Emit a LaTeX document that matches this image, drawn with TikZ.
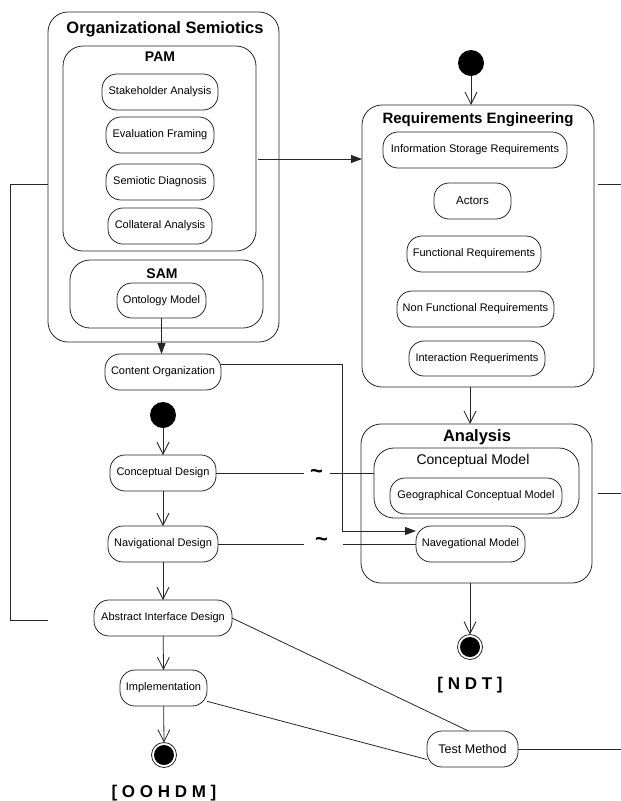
\documentclass[tikz,border=0pt]{standalone}
\usepackage{fontspec}
\setmainfont{Liberation Sans}
\usetikzlibrary{arrows.meta}
\begin{document}
\begin{tikzpicture}[x=1pt,y=-1pt,
  line width=0.8pt, draw=black!85,
  every node/.style={inner sep=0pt, outer sep=0pt},
  pill/.style={draw, rounded corners=15pt, font=\fontsize{11}{12}\selectfont, minimum height=36pt, align=center},
  cont/.style={draw, rounded corners=20pt},
  ttl/.style={font=\bfseries\fontsize{#1}{#1}\selectfont},
  tld/.style={font=\bfseries\fontsize{22}{22}\selectfont},
  oa/.style={-{Straight Barb[length=12pt,width=12pt]}},
  fa/.style={-{Triangle[length=11pt,width=8pt]}},
  startnode/.style={circle, fill=black, minimum size=26pt},
  endnode/.style={circle, draw, minimum size=25pt, path picture={\fill[black] (path picture bounding box.center) circle (10pt);}},
]
\useasboundingbox (0,0) rectangle (621,801);

% ---------- Organizational Semiotics ----------
\node[cont, minimum width=231pt, minimum height=330pt] (orgs) at (163.5,177) {};
\node[ttl=16.5] (orgt) at (165,29) {Organizational Semiotics};
\node[cont, minimum width=193pt, minimum height=205pt] (pam) at (159.5,148.5) {};
\node[ttl=14] (pamt) at (160,57) {PAM};
\node[pill, minimum width=116pt] (sh) at (160,92) {Stakeholder Analysis};
\node[pill, minimum width=108pt] (ef) at (160,135) {Evaluation Framing};
\node[pill, minimum width=108pt] (sd) at (160,182) {Semiotic Diagnosis};
\node[pill, minimum width=104pt] (ca) at (160,226) {Collateral Analysis};
\node[cont, minimum width=193pt, minimum height=68pt] (sam) at (166.5,294) {};
\node[ttl=14] (samt) at (162,274) {SAM};
\node[pill, minimum width=89pt, minimum height=35pt] (om) at (161.5,300.5) {Ontology Model};
\node[pill, minimum width=116pt] (co) at (163,372) {Content Organization};

% ---------- Requirements Engineering ----------
\node[startnode] (s1) at (471,63) {};
\node[cont, minimum width=232pt, minimum height=282pt] (re) at (478,246) {};
\node[ttl=15] (ret) at (478,120) {Requirements Engineering};
\node[pill, minimum width=184pt] (isr) at (475,150) {Information Storage Requirements};
\node[pill, minimum width=77pt, font=\fontsize{11.5}{13}\selectfont] (act) at (472.5,201) {Actors};
\node[pill, minimum width=134pt] (fr) at (474,254) {Functional Requirements};
\node[pill, minimum width=157pt] (nfr) at (475.5,309) {Non Functional Requirements};
\node[pill, minimum width=136pt, minimum height=35pt] (ir) at (477,358.5) {Interaction Requeriments};

% ---------- Analysis ----------
\node[cont, minimum width=231pt, minimum height=159pt] (an) at (476.5,503.5) {};
\node[ttl=16.5] (ant) at (477,437) {Analysis};
\node[cont, minimum width=205pt, minimum height=70pt] (cm) at (476.5,483) {};
\node[font=\fontsize{14}{14}\selectfont] (cmt) at (473,461) {Conceptual Model};
\node[pill, minimum width=172pt] (gcm) at (476,496) {Geographical Conceptual Model};
\node[pill, minimum width=109pt] (nm) at (470.5,544) {Navegational Model};
\node[endnode] (e1) at (470,647) {};
\node[ttl=17] (ndt) at (470,685) {[ N D T ]};

% ---------- OOHDM column ----------
\node[startnode] (s2) at (163,415) {};
\node[pill, minimum width=106pt] (cd) at (163,473) {Conceptual Design};
\node[pill, minimum width=110pt] (nd) at (163,544) {Navigational Design};
\node[pill, minimum width=138pt] (aid) at (163,618) {Abstract Interface Design};
\node[pill, minimum width=87pt] (impl) at (163.5,688) {Implementation};
\node[endnode] (e2) at (164,755) {};
\node[ttl=17] (oohdm) at (164,793) {[ O O H D M ]};
\node[pill, minimum width=91pt, font=\fontsize{12.5}{14}\selectfont] (tm) at (472.5,749) {Test Method};

\node[tld] (t1) at (316.5,473.5) {\textasciitilde};
\node[tld] (t2) at (321.5,541.5) {\textasciitilde};

% ---------- free ends ----------
\coordinate (pamout) at (258,159);
\coordinate (fbtop) at (10,184);
\coordinate (fbend) at (48,620);
\coordinate (cobend) at (342,531);
\coordinate (rer) at (621,184);
\coordinate (anr) at (621,493);
\coordinate (tmr) at (621,749);

% ---------- connectors ----------
\draw[fa] (om.south) -- (om.south |- co.north);
\draw[fa] (pamout) -- (pamout -| re.west);
\draw (orgs.west |- fbtop) -- (fbtop) |- (fbend);
\draw[fa] (co.east |- 0,364) -| (cobend) -- (cobend -| nm.west);
\draw (598,184) -- (rer);
\draw (598,493) -- (anr);

\draw[oa] (s1) -- (s1 |- re.north);
\draw[oa] (re.south -| e1) -- (an.north -| e1);
\draw[oa] (an.south -| e1) -- (e1.north);

\draw[oa] (s2) -- (cd.north);
\draw[oa] (cd) -- (nd.north);
\draw[oa] (nd) -- (aid.north);
\draw[oa] (aid) -- (impl.north);
\draw[oa] (impl) -- (e2.north);

\draw (cd.east) -- (cd.east -| 304,0);
\draw (cd.east -| 330,0) -- (cd.east -| cm.west);
\draw (nd.east) -- (nd.east -| 304,0);
\draw (nd.east -| 343,0) -- (nm.west);

\draw (aid.east) -- ([xshift=-4pt]tm.north);
\draw (impl.-17) -- (tm.-167);
\draw (tm.east) -- (tmr);
\end{tikzpicture}
\end{document}
